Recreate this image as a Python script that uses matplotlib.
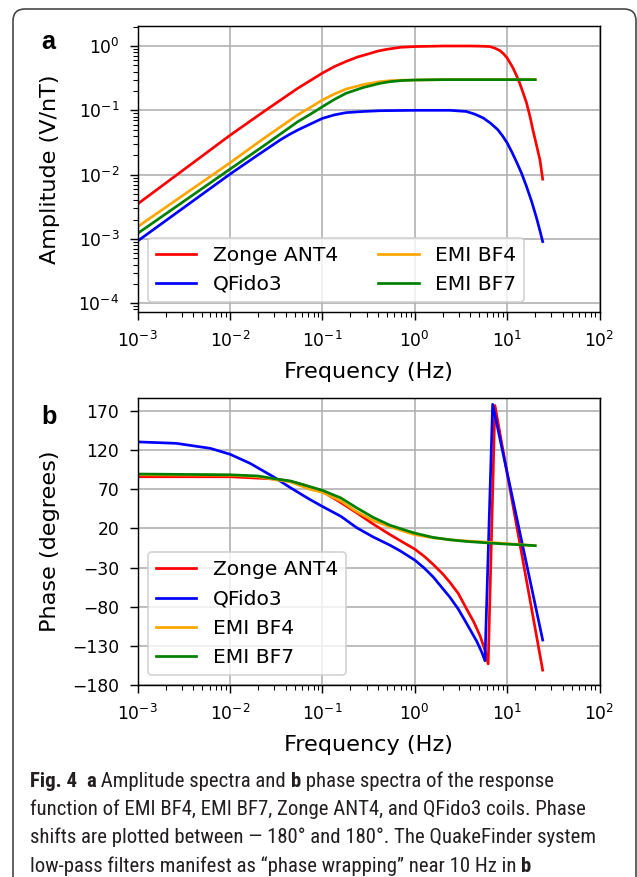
import numpy as np
import matplotlib
matplotlib.use("Agg")
import matplotlib.pyplot as plt
from matplotlib import font_manager as fm
from matplotlib.patches import FancyBboxPatch
from matplotlib.transforms import IdentityTransform

# ---- amplitude spectra (V/nT) ----
f_zonge_amp = [0.001, 0.01, 0.023, 0.054, 0.1, 0.135, 0.18, 0.24, 0.32, 0.4, 0.5, 0.7,
               1.0, 2.0, 4.0, 5.25, 6.5, 7.4, 8.3, 9.1, 10.0, 10.7, 11.6, 12.6, 13.7,
               14.8, 16.2, 17.6, 19.0, 20.9, 22.6, 24.2]
zonge_amp = [3.5e-3, 0.041, 0.095, 0.22, 0.38, 0.48, 0.575, 0.675, 0.76, 0.836, 0.89,
             0.955, 0.98, 1.0, 1.0, 0.993, 0.98, 0.923, 0.85, 0.76, 0.65, 0.55, 0.45,
             0.347, 0.26, 0.19, 0.13, 0.081, 0.049, 0.0275, 0.017, 0.0085]

f_qfido_amp = [0.001, 0.01, 0.02, 0.035, 0.0427, 0.054, 0.1, 0.135, 0.18, 0.28, 0.42,
               1.0, 2.4, 3.6, 4.47, 5.5, 6.6, 7.9, 8.9, 10.0, 11.2, 12.6, 14.3, 16.2,
               18.4, 20.8, 22.4, 24.2]
qfido_amp = [9.3e-4, 0.0102, 0.0202, 0.0347, 0.0412, 0.0494, 0.075, 0.085, 0.092,
             0.096, 0.0986, 0.1, 0.1, 0.096, 0.087, 0.076, 0.063, 0.05, 0.04, 0.031,
             0.0226, 0.0158, 0.0105, 0.0065, 0.0038, 0.0021, 1.41e-3, 9.1e-4]

f_emi_amp = [0.001, 0.01, 0.022, 0.054, 0.074, 0.1, 0.135, 0.18, 0.275, 0.42, 0.54,
             0.71, 1.0, 2.0, 5.0, 10.0, 20.1]
bf4_amp = [1.55e-3, 0.0153, 0.0347, 0.085, 0.111, 0.145, 0.18, 0.214, 0.251, 0.279,
           0.289, 0.294, 0.296, 0.3, 0.3, 0.3, 0.3]
bf7_amp = [1.22e-3, 0.0122, 0.0267, 0.0665, 0.087, 0.114, 0.148, 0.184, 0.226, 0.263,
           0.279, 0.29, 0.296, 0.3, 0.3, 0.3, 0.3]

# ---- phase spectra (degrees) ----
f_zonge_ph = [0.001, 0.01, 0.032, 0.045, 0.063, 0.1, 0.158, 0.234, 0.355, 0.54, 0.74,
              1.0, 1.26, 1.58, 2.0, 2.4, 2.95, 3.6, 4.37, 5.07, 5.69, 6.22, 7.36, 24.2]
zonge_ph = [86, 86, 83, 80, 75.5, 67, 53, 40, 25.5, 12, 2.5, -6.5, -15.5, -26, -38,
            -49, -63, -82, -100, -117, -134, -153, 177, -161]

f_qfido_ph = [0.001, 0.0026, 0.0061, 0.01, 0.0164, 0.0294, 0.045, 0.073, 0.1, 0.158,
              0.234, 0.355, 0.54, 0.69, 1.0, 1.26, 1.58, 2.4, 2.95, 3.6, 4.67, 5.25,
              5.74, 6.95, 24.2]
qfido_ph = [130.5, 128.7, 122.3, 114.7, 103.2, 86, 72, 57, 48, 35.5, 21, 9, -1.5,
            -8.5, -20.5, -30.5, -42, -68, -83, -100.5, -124, -137, -149, 178.5, -122.5]

f_emi_ph = [0.001, 0.01, 0.02, 0.032, 0.045, 0.073, 0.1, 0.158, 0.234, 0.355, 0.54,
            0.69, 0.8, 1.0, 1.58, 2.4, 3.6, 6.5, 8.3, 20.1]
bf4_ph = [88.5, 88, 86, 82, 79.5, 70, 66, 55, 41.5, 30, 22, 18, 15.5, 12, 8, 5.5, 4,
          2.3, 1.2, -2]
bf7_ph = [89.5, 88.5, 87, 83, 80.6, 73.4, 68.6, 59, 46.4, 34, 24, 20, 17.5, 14, 8.5,
          5.5, 3.4, 1.3, 0.5, -2]

names = ["Zonge ANT4", "QFido3", "EMI BF4", "EMI BF7"]
colors = ["red", "blue", "orange", "green"]

DPI = 130
W, H = 637, 877
fig = plt.figure(figsize=(W / DPI, H / DPI), dpi=DPI)

ax1 = fig.add_axes([0.2162, 0.6442, 0.7251, 0.3262])
ax2 = fig.add_axes([0.2162, 0.2189, 0.7251, 0.3273])

amp = [(f_zonge_amp, zonge_amp), (f_qfido_amp, qfido_amp),
       (f_emi_amp, bf4_amp), (f_emi_amp, bf7_amp)]
pha = [(f_zonge_ph, zonge_ph), (f_qfido_ph, qfido_ph),
       (f_emi_ph, bf4_ph), (f_emi_ph, bf7_ph)]

for (x, y), c, n in zip(amp, colors, names):
    ax1.loglog(x, y, color=c, lw=1.5, label=n)
for (x, y), c, n in zip(pha, colors, names):
    ax2.semilogx(x, y, color=c, lw=1.5, label=n)

ax1.set_xlim(1e-3, 1e2)
ax1.set_ylim(7.3e-5, 2.05)
ax2.set_xlim(1e-3, 1e2)
ax2.set_ylim(-180, 186.6)
ax2.set_yticks(np.arange(-180, 171, 50))

for ax, lab in [(ax1, "Amplitude (V/nT)"), (ax2, "Phase (degrees)")]:
    ax.grid(True, which="major", color="#b0b0b0", lw=0.9)
    ax.tick_params(which="major", labelsize=9.5, length=4.7, pad=5.5)
    ax.tick_params(which="minor", length=2.7)
    ax.set_xlabel("Frequency (Hz)", fontsize=12.4, labelpad=6.5)
    ax.set_ylabel(lab, fontsize=12.4)
    ax.yaxis.set_label_coords(-0.168, 0.5)

ax1.legend(loc="lower left", ncol=2, fontsize=11.2)
ax2.legend(loc="lower left", ncol=1, fontsize=11.2)

# panel letters
fig.text(48 / W, 1 - 42 / H, "a", fontsize=14, weight="bold",
         family=["Liberation Sans", "DejaVu Sans"], ha="center", va="center")
fig.text(49 / W, 1 - 417 / H, "b", fontsize=14, weight="bold",
         family=["Liberation Sans", "DejaVu Sans"], ha="center", va="center")

# rounded frame (bottom edge cut off)
frame = FancyBboxPatch((13, -20), 623, 888, boxstyle="round,pad=0,rounding_size=12",
                       transform=IdentityTransform(), fill=False, ec="#444444", lw=0.9)
fig.add_artist(frame)

# caption
cap_font = "Noto Sans"
for name in ["Liberation Sans Narrow", "Roboto Condensed", "Open Sans Condensed"]:
    try:
        fm.findfont(name, fallback_to_default=False)
        cap_font = name
        break
    except ValueError:
        pass

cap_lines = [
    [("Fig. 4", True), ("  ", False), ("a", True), (" Amplitude spectra and ", False),
     ("b", True), (" phase spectra of the response", False)],
    [("function of EMI BF4, EMI BF7, Zonge ANT4, and QFido3 coils. Phase", False)],
    [("shifts are plotted between \u2014 180\u00b0 and 180\u00b0. The QuakeFinder system", False)],
    [("low-pass filters manifest as \u201cphase wrapping\u201d near 10 Hz in ", False), ("b", True)],
]
cap_right = [579, 569, 595, 510]
cap_base = [786.7, 815.0, 843.3, 871.6]
cap_x0 = 30

renderer = fig.canvas.get_renderer()


def seg_width(s, size, bold):
    w = []
    for txt in ["|" + s + "|", "||"]:
        t = fig.text(0, 0, txt, fontsize=size, family=cap_font,
                     weight="bold" if bold else "normal", transform=IdentityTransform())
        w.append(t.get_window_extent(renderer).width)
        t.remove()
    return w[0] - w[1]


scales = []
for parts, right in zip(cap_lines, cap_right):
    tot = sum(seg_width(s, 10, b) for s, b in parts)
    scales.append((right - cap_x0) / tot)
cap_size = 10 * float(np.mean(scales))

for parts, base in zip(cap_lines, cap_base):
    x = cap_x0
    for s, b in parts:
        fig.text(x, H - base, s, fontsize=cap_size, family=cap_font,
                 weight="bold" if b else "normal", color="#231f20",
                 transform=IdentityTransform(), ha="left", va="baseline")
        x += seg_width(s, cap_size, b)

fig.savefig("out.png", dpi=DPI)
